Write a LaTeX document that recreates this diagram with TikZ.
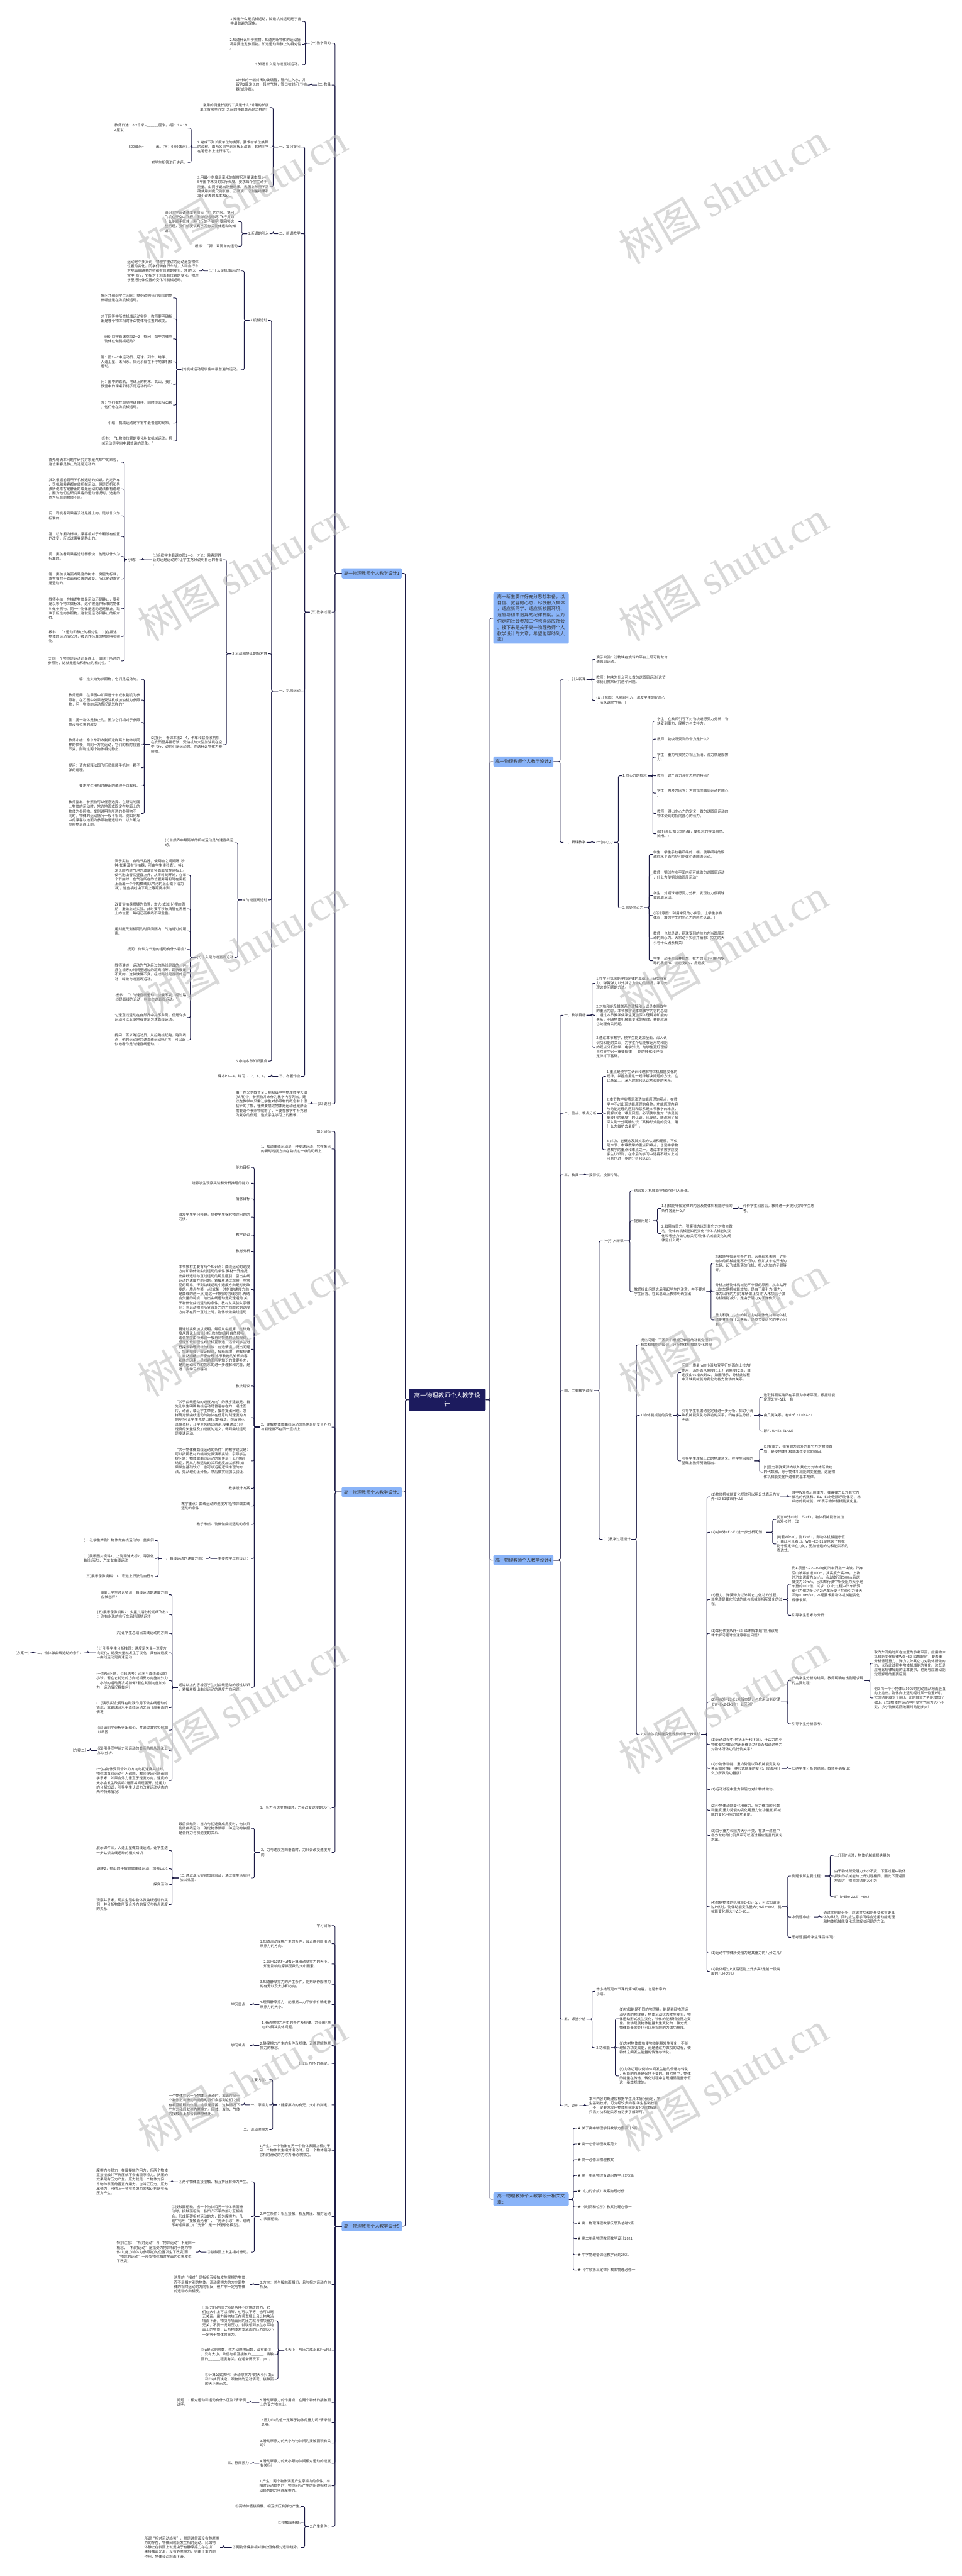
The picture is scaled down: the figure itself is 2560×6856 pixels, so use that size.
\documentclass[tikz,border=0pt]{standalone}
\usepackage{fontspec}
\setmainfont{Noto Sans CJK SC}
\newfontfamily\wmserif{Liberation Serif}
\definecolor{TuNavy}{HTML}{1C1B5E}
\definecolor{TuLine}{HTML}{1B1A45}
\definecolor{TuSky}{HTML}{8AB4F8}
\definecolor{TuInk}{HTML}{333333}
\definecolor{TuMark}{HTML}{BEBEBE}
\begin{document}
\begin{tikzpicture}[x=1pt,y=-1pt]
    \tikzset{
      leaf/.style={font=\fontsize{9.5}{12}\selectfont, text=TuInk, align=left, inner xsep=2pt, inner ysep=1pt},
      ll/.style={leaf, anchor=east},
      rl/.style={leaf, anchor=west},
      topic/.style={rounded corners=3pt, fill=TuSky, text=TuInk, font=\fontsize{11.8}{16.4}\selectfont,
        inner xsep=6pt, inner ysep=4pt, minimum height=27pt, align=left},
      root/.style={rounded corners=3pt, fill=TuNavy, text=white, font=\fontsize{16}{22}\selectfont,
        minimum width=205pt, minimum height=59pt, align=center},
      link/.style={draw=TuLine, line width=1.6pt, rounded corners=4pt},
      wmark/.style={font=\fontsize{110}{110}\selectfont, text=TuMark, text opacity=.6, rotate=30}
    }
    \fill[white] (0,0) rectangle (2560,6856);
    \useasboundingbox (0,0) rectangle (2560,6856);
    \node[root] (root) at (1190.5,3725.5) {高一物理教师个人教学设\\计};
    % left: 设计1
    \node[topic,anchor=east] (d1) at (1070,1526) {高一物理教师个人教学设计1};
    \node[ll] (d1a) at (883,115) {(一)教学目的};
    \node[ll] (d1b) at (883,226) {(二)教具};
    \node[ll] (d1c) at (883,1629) {(三)教学过程};
    \node[ll] (d1d) at (883,2938) {(四)说明};
    \node[ll] (d1a1) at (804,57) {1.知道什么是机械运动，知道机械运动是宇宙\\中最普遍的现象。};
    \node[ll] (d1a2) at (804,118) {2.知道什么叫参照物，知道判断物体的运动情\\况需要选定参照物。知道运动和静止的相对性\\。};
    \node[ll] (d1a3) at (804,172) {3.知道什么是匀速直线运动。};
    \node[ll] (d1b1) at (819,226) {1米长的一端封闭的玻璃管，管内注入水，并\\留约2厘米长的一段空气柱，管口被封闭;节拍\\器(或秒表)。};
    \node[ll] (d1c1) at (802,391) {一、复习提问};
    \node[ll] (d1c2) at (802,622) {二、新课教学};
    \node[ll] (d1c3) at (802,1839) {一、机械运动};
    \node[ll] (d1c4) at (802,2865) {三、布置作业};
    \node[ll] (d1c1a) at (718,286) {1.常用的测量长度的工具是什么?常用的长度\\单位有哪些?它们之间的换算关系是怎样的?};
    \node[ll] (d1c1b) at (718,391) {2.完成下列长度单位的换算，要求有单位换算\\的过程。由两名同学到黑板上演算，其他同学\\在笔记本上进行练习。};
    \node[ll] (d1c1c) at (718,497) {3.用最小刻度是毫米的刻度尺测量课本图1—\\5甲图中木块的实际长度。要求每个学生动手\\测量。由同学说出测量结果。巩固上节所学正\\确使用刻度尺测长度、正确读、记测量结果和\\减小误差的基本知识。};
    \node[ll] (d1c1b1) at (500,341) {教师口述：0.2千米=\_\_\_\_\_\_厘米。(答：2×10\\4厘米)};
    \node[ll] (d1c1b2) at (500,391) {500微米=\_\_\_\_\_\_米。(答：0.0005米)};
    \node[ll] (d1c1b3) at (500,432) {对学生所答进行讲评。};
    \node[ll] (d1c2a) at (718,622) {1.新课的引入};
    \node[ll] (d1c2a1) at (635,590) {组织同学阅读课本节前大“?”的内容。提问：\\飞机在天空中飞行，子弹在运动吗?飞行员为\\什么能顺手抓住一颗飞行的子弹呢?要回答这\\些问题，我们就要认真学习有关物体运动的知\\识。};
    \node[ll] (d1c2a2) at (635,655) {板书：“第二章简单的运动};
    \node[ll] (d1c3a) at (714,853) {2.机械运动};
    \node[ll] (d1c3b) at (714,1740) {3.运动和静止的相对性};
    \node[ll] (d1c3c) at (714,2395) {4.匀速直线运动};
    \node[ll] (d1c3d) at (714,2824) {5.小结本节知识要点};
    \node[ll] (d1c3a1) at (641,721) {(1)什么是机械运动?};
    \node[ll] (d1c3a2) at (641,984) {(2)机械运动是宇宙中最普遍的运动。};
    \node[ll] (d1c3a1x) at (531,721) {运动是个多义词，物理学里讲的运动是指物体\\位置的变化。同学们骑自行车时，人和自行车\\对地面或路旁的树都有位置的变化;飞机在天\\空中飞行，它相对于地面有位置的变化。物理\\学里把物体位置的变化叫机械运动。};
    \node[ll] (d1c3a2a) at (461,793) {提问并组织学生回答：举例说明我们周围的物\\体哪些是在做机械运动。};
    \node[ll] (d1c3a2b) at (461,849) {对于回答中所举机械运动实例，教师要明确指\\出是哪个物体相对什么物体有位置的改变。};
    \node[ll] (d1c3a2c) at (461,902) {组织同学看课本图2—2，提问：图中的哪些\\物体在做机械运动?};
    \node[ll] (d1c3a2d) at (461,963) {答：图2—2中运动员、足球、列车、地球、\\人造卫星、太阳系、银河系都在不停地做机械\\运动。};
    \node[ll] (d1c3a2e) at (461,1023) {问：图中的铁轨，地球上的树木、高山，我们\\教室中的课桌和椅子是运动的吗?};
    \node[ll] (d1c3a2f) at (461,1078) {答：它们都在跟随地球自转，同时绕太阳公转\\，他们也在做机械运动。};
    \node[ll] (d1c3a2g) at (461,1126) {小结：机械运动是宇宙中最普遍的现象。};
    \node[ll] (d1c3a2h) at (461,1174) {板书：“1.物体位置的变化叫做机械运动。机\\械运动是宇宙中最普遍的现象。”};
    \node[ll] (d1c3b1) at (594,1490) {(1)组织学生看课本图2—3，讨论：乘客是静\\止的还是运动的?让学生充分说明自己的看法\\。};
    \node[ll] (d1c3b2) at (594,1982) {(2)提问：看课本图2—4，卡车和联合收割机\\在农田里并排行驶，受油机与大型加油机在空\\中飞行，说它们是运动的。你选什么物体为参\\照物。};
    \node[ll] (d1c3b1x) at (371,1490) {小结：};
    \node[ll] (d1c3b1xa) at (322,1230) {首先明确本问题中研究对象是汽车中的乘客，\\这位乘客是静止的还是运动的。};
    \node[ll] (d1c3b1xb) at (322,1301) {其次根据前面所学机械运动的知识，判定汽车\\、司机和乘客都在做机械运动。但是司机和男\\孩所说乘客是静止的或是运动的说法都有道理\\。因为他们在研究乘客的运动情况时，选定的\\作为标准的物体不同。};
    \node[ll] (d1c3b1xc) at (322,1373) {问：司机看到乘客没动是静止的，是以什么为\\标准的。};
    \node[ll] (d1c3b1xd) at (322,1428) {答：以车厢为标准，乘客相对于车厢没有位置\\的改变，所以说乘客是静止的。};
    \node[ll] (d1c3b1xe) at (322,1481) {问：男孩看到乘客运动得很快，他是以什么为\\标准的。};
    \node[ll] (d1c3b1xf) at (322,1541) {答：男孩以路面或路旁的树木、房屋为标准，\\乘客相对于路面有位置的改变。所以他说乘客\\是运动的。};
    \node[ll] (d1c3b1xg) at (322,1620) {教师小结：在描述物体是运动还是静止，要看\\是以哪个物体做标准。这个被选作标准的物体\\叫做参照物。同一个物体是运动还是静止，取\\决于所选的参照物，这就是运动和静止的相对\\性。};
    \node[ll] (d1c3b1xh) at (322,1694) {板书：“2.运动和静止的相对性：(1)在描述\\物体的运动情况时，被选作标准的物体叫参照\\物。};
    \node[ll] (d1c3b1xi) at (322,1759) {(2)同一个物体是运动还是静止，取决于所选的\\参照物，这就是运动和静止的相对性。”};
    \node[ll] (d1c3b2a) at (375,1808) {答：选大地为参照物，它们是运动的。};
    \node[ll] (d1c3b2b) at (375,1863) {教师追问：在甲图中如果选卡车或收割机为参\\照物，在乙图中如果选受油机或加油机为参照\\物，另一物体的运动情况是怎样的?};
    \node[ll] (d1c3b2c) at (375,1923) {答：另一物体是静止的。因为它们相对于参照\\物没有位置的改变};
    \node[ll] (d1c3b2d) at (375,1982) {教师小结：像卡车和收割机这样两个物体以同\\样的快慢，向同一方向运动，它们的相对位置\\不变，则称这两个物体相对静止。};
    \node[ll] (d1c3b2e) at (375,2043) {提问：请你解释法国飞行员能顺手抓住一颗子\\弹的道理。};
    \node[ll] (d1c3b2f) at (375,2091) {要求学生用相对静止的道理予以解释。};
    \node[ll] (d1c3b2g) at (375,2165) {教师指出：参照物可以任意选择，在研究地面\\上物体的运动时，常选地面或固定在地面上的\\物体为参照物。举例说明当所选的参照物不\\同时，物体的运动情况一般不相同。例如列车\\中的乘客以地面为参照物是运动的，以车厢为\\参照物是静止的。};
    \node[ll] (d1c3c1) at (624,2243) {(1)自然界中最简单的机械运动是匀速直线运\\动。};
    \node[ll] (d1c3c2) at (624,2548) {(2)什么是匀速直线运动};
    \node[ll] (d1c3c2a) at (498,2329) {演示实验：启动节拍器，使两响之间间隔1秒\\钟(如果没有节拍器，可由学生读秒表)。将1\\米长的内封气泡的玻璃管竖直靠放在黑板上。\\使气泡由管底竖直上升，从零时刻开始，在每\\个节拍时，在气泡所在的位置旁用粉笔在黑板\\上画出一个个短横线(以气泡的上沿或下沿为\\准)，这些横线由下到上等距离排列。};
    \node[ll] (d1c3c2b) at (498,2419) {改变节拍器摆锤的位置，增大(或减小)摆的周\\期，重做上述实验。此时要平移玻璃管在黑板\\上的位置，每组记画横线不可重叠。};
    \node[ll] (d1c3c2c) at (498,2478) {用刻度尺测相同的时间间隔内，气泡通过的距\\离。};
    \node[ll] (d1c3c2d) at (498,2527) {提问：你认为气泡的运动有什么特点?};
    \node[ll] (d1c3c2e) at (498,2588) {教师讲述：运动的气泡经过的路线是直的，并\\且在相等的时间里通过的距离相等。即快慢是\\不变的，这种快慢不变，经过路线是直线的运\\动，叫做匀速直线运动。};
    \node[ll] (d1c3c2f) at (498,2654) {板书：“3.匀速直线运动：快慢不变，经过路\\线是直线的运动，叫做匀速直线运动。”};
    \node[ll] (d1c3c2g) at (498,2708) {匀速直线运动在自然界中并不多见，但是许多\\运动可以近似地看作是匀速直线运动。};
    \node[ll] (d1c3c2h) at (498,2768) {提问：百米跑运动员，从起跑线起跑，跑到终\\点，他的运动是匀速直线运动吗?(答：可以近\\似地看作是匀速直线运动。)};
    \node[ll] (d1c4a) at (714,2865) {课本P2—4，练习1、2、3、4。};
    \node[ll] (d1d1) at (820,2938) {由于在义务教育全日制初级中学物理教学大纲\\(试用)中，参照物并未作为教学内容列出。建\\议在教学中只需让学生对参照物的概念有个很\\初步的了解，懂得要描述物体是运动还是静止\\需要选个参照物就够了，不要在教学中补充较\\为复杂的例题，造成学生学习上的困难。};
    % left: 设计3
    \node[topic,anchor=east] (d3) at (1070,3971) {高一物理教师个人教学设计3};
    \node[ll] (d3a) at (883,3011) {知识目标};
    \node[ll] (d3b) at (883,3058) {1、知道曲线运动是一种变速运动，它在某点\\的瞬时速度方向在曲线这一点的切线上.};
    \node[ll] (d3c) at (883,3798) {2、理解物体做曲线运动的条件是所受合外力\\与初速度不在同一直线上.};
    \node[ll] (d3d) at (883,4811) {1、当力与速度共线时，力会改变速度的大小;};
    \node[ll] (d3e) at (883,4930) {2、力与速度方向垂直时，力只会改变速度方\\向.};
    \node[ll] (d3c1) at (668,3107) {能力目标};
    \node[ll] (d3c2) at (668,3149) {培养学生观察实验和分析推理的能力.};
    \node[ll] (d3c3) at (668,3191) {情感目标};
    \node[ll] (d3c4) at (668,3239) {激发学生学习兴趣，培养学生探究物理问题的\\习惯.};
    \node[ll] (d3c5) at (668,3287) {教学建议};
    \node[ll] (d3c6) at (668,3330) {教材分析};
    \node[ll] (d3c7) at (668,3432) {本节教材主要有两个知识点：曲线运动的速度\\方向和物体做曲线运动的条件.教材一开始提\\出曲线运动与直线运动的明显区别，引出曲线\\运动的速度方向问题。紧接着通过观察一些常\\见的现象，得到曲线运动中速度方向是时刻改\\变的。质点在某一点(或某一时刻)的速度方向\\是曲线的这一点(或这一时刻)的切线方向.再结\\合矢量的特点，给出曲线运动是变速运动.关\\于物体做曲线运动的条件，教材从实验入手得\\到：当运动物体所受合外力的方向跟它的速度\\方向不在同一直线上时，物体就做曲线运动.};
    \node[ll] (d3c8) at (668,3591) {再通过实例加以说明。最后从牛顿第二定律角\\度从理论上加以分析.教材的编排自然顺畅，\\适合学生由特殊到一般再到特殊的认知规律，\\感性知识和理性知识相互渗透，适合对学生进\\行探求物理规律的训练：创造情境，提出问题\\，探求规律，验证规律，解释规律，理解规律\\，自然顺畅，严密合理.本节教材的知识内容\\和能力因素，是对前面所学知识的重要补充，\\是对运动和力的关系的进一步理解和完善，是\\进一步学习的基础.};
    \node[ll] (d3c9) at (668,3689) {教法建议};
    \node[ll] (d3c10) at (668,3773) {“关于曲线运动的速度方向”的教学建议是：首\\先让学生明确曲线运动是普遍存在的，通过图\\片，动画，或让学生举例，接着提出问题，怎\\样确定做曲线运动的物体在任意时刻速度的方\\向呢?可让学生先提出自己的看法，然后展示\\录像资料，让学生总结出结论.接着通过分析\\速度的矢量性及加速度的定义，得到曲线运动\\是变速运动.};
    \node[ll] (d3c11) at (668,3888) {“关于物体做曲线运动的条件”的教学建议是：\\可以按照教材的编排先做演示实验，引导学生\\提问题：物体做曲线运动的条件是什么?得到\\结论，再从力和运动的关系角度加以解释.如\\果学生基础较好，也可以运用逻辑推理的方\\法，先从理论上分析，然后做实验加以验证.};
    \node[ll] (d3c12) at (668,3961) {教学设计方案};
    \node[ll] (d3c13) at (668,4008) {教学重点：曲线运动的速度方向;物体做曲线\\运动的条件};
    \node[ll] (d3c14) at (668,4057) {教学难点：物体做曲线运动的条件};
    \node[ll] (d3c15) at (668,4148) {主要教学过程设计：};
    \node[ll] (d3c16) at (668,4491) {通过以上内容增强学生对曲线运动的感性认识\\，紧接着提出曲线运动的速度方向问题：};
    \node[ll] (d3c15a) at (549,4148) {一、曲线运动的速度方向：};
    \node[ll] (d3c15a1) at (412,4100) {(一)让学生举例：物体做曲线运动的一些实例};
    \node[ll] (d3c15a2) at (412,4148) {(二)展示图片资料1、上海南浦大桥2、导弹做\\曲线运动3、汽车做曲线运动};
    \node[ll] (d3c15a3) at (412,4196) {(三)展示录像资料：1、弯道上行驶的自行车};
    \node[ll] (d3c16a) at (449,4244) {(四)让学生讨论猜测，曲线运动的速度方向\\应该怎样?};
    \node[ll] (d3c16b) at (449,4297) {(五)展示录像资料2：火星儿沿砂轮切线飞出3\\：沾有水珠的自行车后轮原地运转};
    \node[ll] (d3c16c) at (449,4347) {(六)让学生总结出曲线运动的方向};
    \node[ll] (d3c16d) at (449,4399) {(七)引导学生分析推理：速度是矢量—速度方\\向变化，速度矢量就发生了变化—具有加速度\\—曲线运动是变速运动};
    \node[ll] (d3c16e) at (449,4473) {(一)提出问题，引起思考：沿水平直线滚动的\\小球，若在它前进的方向或相反方向施加外力\\，小球的运动情况将如何?若在其侧向施加外\\力，运动情况将如何?};
    \node[ll] (d3c16f) at (449,4545) {(二)演示实验;钢球在磁铁作用下做曲线运动的\\情况，或钢球沿水平直线运动之后飞离桌面的\\情况.};
    \node[ll] (d3c16g) at (449,4605) {(三)请同学分析得出结论，并通过其它实例加\\以巩固.};
    \node[ll] (d3c16h) at (449,4659) {(四)引导同学从力和运动的关系角度从理论上\\加以分析.};
    \node[ll] (d3c16i) at (449,4739) {(一)由物体受到合外力方向与初速度共线时，\\物体做直线运动引入课题，教师提出问题请同\\学思考：如果合外力垂直于速度方向，速度的\\大小会发生改变吗?进而将问题展开，运用力\\的分解知识，引导学生认识力改变运动状态的\\两种特殊情况：};
    \node[ll] (d3c16dx) at (225,4399) {二、物体做曲线运动的条件：};
    \node[ll] (d3c16dxx) at (79,4399) {[方案一]};
    \node[ll] (d3c16hx) at (231,4659) {[方案二]};
    \node[ll] (d3e1) at (668,4866) {最后归结到：当力与初速度成角度时，物体只\\能做曲线运动，确定物体做哪一种运动的依据\\是合外力与初速度的关系.};
    \node[ll] (d3e2) at (668,4998) {(二)通过演示实验加以验证，通过举生活实例\\加以巩固：};
    \node[ll] (d3e2a) at (449,4925) {展示课件三，人造卫星做曲线运动，让学生进\\一步认识曲线运动的相关知识.};
    \node[ll] (d3e2b) at (449,4974) {课件2，抛出的手榴弹做曲线运动，加强认识.};
    \node[ll] (d3e2c) at (449,5016) {探究活动};
    \node[ll] (d3e2d) at (449,5069) {观察并思考，现实生活中物体做曲线运动的实\\例，并分析物体所受合外力的情况与各点速度\\的关系.};
    % left: 设计5
    \node[topic,anchor=east] (d5) at (1070,5925) {高一物理教师个人教学设计5};
    \node[ll] (d5a) at (883,5125) {学习目标};
    \node[ll] (d5b) at (883,5173) {1.知道滑动摩擦产生的条件，会正确判断滑动\\摩擦力的方向。};
    \node[ll] (d5c) at (883,5227) {2.会用公式F=μFN计算滑动摩擦力的大小，\\知道影响动摩擦因数的大小因素。};
    \node[ll] (d5d) at (883,5281) {3.知道静摩擦力的产生条件，能判断静摩擦力\\的有无以及大小和方向。};
    \node[ll] (d5e) at (883,5335) {4.理解静摩擦力，能根据二力平衡条件确定静\\摩擦力的大小。};
    \node[ll] (d5f) at (883,5390) {1.滑动摩擦力产生的条件及规律，并会用F摩\\=μFN解决具体问题。};
    \node[ll] (d5g) at (883,5444) {2.静摩擦力产生的条件及规律，正确理解静摩\\擦力的概念。};
    \node[ll] (d5h) at (883,5492) {1.正压力FN的确定。};
    \node[ll] (d5i) at (883,5602) {2.静摩擦力的有无、大小的判定。};
    \node[ll] (d5j) at (883,5723) {1.产生：一个物体在另一个物体表面上相对于\\另一个物体发生相对滑动时，另一个物体阻碍\\它相对滑动的力称为滑动摩擦力。};
    \node[ll] (d5k) at (883,5899) {2.产生条件：相互接触、相互挤压、相对运动\\、表面粗糙。};
    \node[ll] (d5l) at (883,6080) {3.方向：总与接触面相切，且与相对运动方向\\相反。};
    \node[ll] (d5m) at (883,6255) {4.大小：与压力成正比F=μFN};
    \node[ll] (d5n) at (883,6394) {5.滑动摩擦力的作用点：在两个物体的接触面\\上的受力物体上。};
    \node[ll] (d5o) at (883,6447) {2.压力FN的值一定等于物体的重力吗?请举例\\说明。};
    \node[ll] (d5p) at (883,6502) {3.滑动摩擦力的大小与物体间的接触面积有关\\吗?};
    \node[ll] (d5q) at (883,6556) {4.滑动摩擦力的大小跟物体间相对运动的速度\\有关吗?};
    \node[ll] (d5r) at (883,6616) {1.产生：两个物体满足产生摩擦力的条件，有\\相对运动趋势时，物体间所产生的阻碍相对运\\动趋势的力叫静摩擦力。};
    \node[ll] (d5s) at (883,6724) {2.产生条件：};
    \node[ll] (d5e1) at (665,5335) {学习重点：};
    \node[ll] (d5g1) at (665,5444) {学习难点：};
    \node[ll] (d5i1) at (717,5535) {主要内容：};
    \node[ll] (d5i2) at (717,5602) {一、摩擦力};
    \node[ll] (d5i3) at (717,5668) {二、滑动摩擦力};
    \node[ll] (d5i2x) at (641,5602) {一个物体在另一个物体上滑动时，或者在另一\\个物体上有滑动的趋势时我们会感到它们之间\\有相互阻碍的作用，这就是摩擦。这种情况下\\产生力我们就称为摩擦力。固体、液体、气体\\的接触面上都会有摩擦作用。};
    \node[ll] (d5k1) at (668,5807) {①两个物体直接接触、相互挤压有弹力产生。};
    \node[ll] (d5k2) at (668,5899) {②接触面粗糙。当一个物体沿另一物体表面滑\\动时，接触面粗糙，各凹凸不平的部分互相啮\\合，形成阻碍相对运动的力，即为摩擦力。凡\\题中写明“接触面光滑”、“光滑小球”等，统统\\不考虑摩擦力(“光滑”是一个理想化模型)。};
    \node[ll] (d5k3) at (668,5994) {③接触面上发生相对滑动。};
    \node[ll] (d5k1x) at (449,5807) {摩擦力与弹力一样属接触作用力，但两个物体\\直接接触并不挤压就不会出现摩擦力。挤压的\\效果是有压力产生。压力就是一个物体对另一\\个物体表面的垂直作用力，也叫正压力，压力\\属弹力，可依上一节有关弹力的知识判断有无\\压力产生。};
    \node[ll] (d5k3x) at (522,5994) {特别注意：“相对运动”与“物体运动”不是同一\\概念，“相对运动”是指受力物体相对于施力物\\体(以施力物体为参照物)的位置发生了改变;而\\“物体的运动”一般指物体相对地面的位置发生\\了改变。};
    \node[ll] (d5l1) at (665,6080) {这里的“相对”是指相互接触发生摩擦的物体，\\而不是相对别的物体。滑动摩擦力的方向跟物\\体的相对运动的方向相反，但并非一定与物体\\的运动方向相反。};
    \node[ll] (d5m1) at (731,6177) {①压力FN与重力G是两种不同性质的力，它\\们在大小上可以相等，也可以不等，也可以毫\\无关系。用力将物块压在竖直墙上且让物块沿\\墙面下滑，物块与墙面间的压力就与物块重力\\无关，不要一提到压力，就联想到放在水平地\\面上的物体，认为物体对支承面的压力的大小\\一定等于物体的重力。};
    \node[ll] (d5m2) at (731,6267) {②μ是比例常数，称为动摩擦因数，没有单位\\，只有大小，数值与相互接触的\_\_\_\_\_\_、接触\\面的\_\_\_\_\_\_程度有关。在通常情况下，μ<1。};
    \node[ll] (d5m3) at (731,6332) {③计算公式表明：滑动摩擦力F的大小只由μ\\和FN共同决定，跟物体的运动情况、接触面\\的大小等无关。};
    \node[ll] (d5n1) at (657,6394) {问题：1.相对运动和运动有什么区别?请举例\\说明。};
    \node[ll] (d5q1) at (665,6556) {三、静摩擦力};
    \node[ll] (d5s1) at (802,6671) {①两物体直接接触、相互挤压有弹力产生;};
    \node[ll] (d5s2) at (802,6714) {②接触面粗糙;};
    \node[ll] (d5s3) at (802,6780) {③两物体保持相对静止但有相对运动趋势。};
    \node[ll] (d5s3x) at (586,6780) {所谓“相对运动趋势”，就是说假设没有静摩擦\\力的存在，物体间就会发生相对运动。比如物\\体静止在斜面上就是由于有静摩擦力存在;如\\果接触面光滑，没有静摩擦力，则由于重力的\\作用，物体会沿斜面下滑。};
    % right: 引言, 设计2
    \node[topic,anchor=west,minimum width=201pt,inner ysep=5pt,font=\fontsize{12}{16.4}\selectfont] (r0) at (1313,1645)
      {高一新生要作好充分思想准备，以\\自信、宽容的心态，尽快融入集体\\，适应新同学、适应新校园环境、\\适应与初中迥异的纪律制度。因为\\你走向社会参加工作也得适应社会\\。接下来是关于高一物理教师个人\\教学设计的文章，希望能帮助到大\\家!};
    \node[topic,anchor=west] (r2) at (1313,2027) {高一物理教师个人教学设计2};
    \node[rl] (r2a) at (1500,1809) {一、引入新课};
    \node[rl] (r2b) at (1500,2242) {二、新课教学};
    \node[rl] (r2a1) at (1585,1755) {演示实验：让物块在旋转的平台上尽可能做匀\\速圆周运动。};
    \node[rl] (r2a2) at (1585,1809) {教师：物块为什么可以做匀速圆周运动?这节\\课我们就来研究这个问题。};
    \node[rl] (r2a3) at (1585,1864) {(设计意图：从实验引入，激发学生的好奇心\\，活跃课堂气氛。)};
    \node[rl] (r2b1) at (1585,2242) {(一)向心力};
    \node[rl] (r2b1a) at (1655,2065) {1.向心力的概念};
    \node[rl] (r2b1b) at (1655,2416) {2.感受向心力};
    \node[rl] (r2b1a1) at (1747,1919) {学生：在教师引导下对物块进行受力分析：物\\块受到重力、摩擦力与支持力。};
    \node[rl] (r2b1a2) at (1747,1967) {教师：物块所受到的合力是什么?};
    \node[rl] (r2b1a3) at (1747,2015) {学生：重力与支持力相互抵消，合力就是摩擦\\力。};
    \node[rl] (r2b1a4) at (1747,2065) {教师：这个合力具有怎样的特点?};
    \node[rl] (r2b1a5) at (1747,2111) {学生：思考并回答：方向指向圆周运动的圆心\\。};
    \node[rl] (r2b1a6) at (1747,2165) {教师：得出向心力的定义：做匀速圆周运动的\\物体受到的指向圆心的合力。};
    \node[rl] (r2b1a7) at (1747,2219) {(做好新旧知识的衔接，使概念的得出自然、\\流畅。)};
    \node[rl] (r2b1b1) at (1737,2274) {学生：学生手拉着细绳的一端，使带细绳的钢\\球在水平面内尽可能做匀速圆周运动。};
    \node[rl] (r2b1b2) at (1737,2329) {教师：钢球在水平面内尽可能做匀速圆周运动\\，什么力使钢球做圆周运动?};
    \node[rl] (r2b1b3) at (1737,2383) {学生：对钢球进行受力分析，发现拉力使钢球\\做圆周运动。};
    \node[rl] (r2b1b4) at (1737,2437) {(设计意图：利用常见的小实验，让学生亲身\\体验，增强学生对向心力的感性认识。)};
    \node[rl] (r2b1b5) at (1737,2497) {教师：也就是说，钢球受到的拉力充当圆周运\\动的向心力。大家动手实验并猜想：拉力的大\\小与什么因素有关?};
    \node[rl] (r2b1b6) at (1737,2557) {学生：动手体验并猜想，拉力的大小可能与钢\\球的质量m、线速度的v、角速度};
    % right: 设计4
    \node[topic,anchor=west] (r4) at (1313,4152) {高一物理教师个人教学设计4};
    \node[rl] (r4a) at (1500,2702) {一、教学目标};
    \node[rl] (r4b) at (1500,2963) {二、重点、难点分析};
    \node[rl] (r4c) at (1500,3127) {三、教具};
    \node[rl] (r4d) at (1500,3701) {四、主要教学过程};
    \node[rl] (r4e) at (1500,5374) {五、课堂小结};
    \node[rl] (r4f) at (1500,5604) {六、说明};
    \node[rl] (r4a1) at (1585,2617) {1.在学习机械能守恒定律的基础上，研究有重\\力、弹簧弹力以外其它力做功的情况，学习处\\理这类问题的方法。};
    \node[rl] (r4a2) at (1585,2702) {2.对功和能及其关系的理解和认识是本章教学\\的重点内容，本节教学是本章教学内容的总结\\。通过本节教学使学生更加深入理解功和能的\\关系，明确物体机械能变化的规律，并能应用\\它处理有关问题。};
    \node[rl] (r4a3) at (1585,2787) {3.通过本节教学，使学生能更加全面、深入认\\识功和能的关系，为学生今后能够运用功和能\\的观点分析热学、电学知识，为学生更好理解\\自然界中另一重要规律——能的转化和守恒\\定律打下基础。};
    \node[rl] (r4b1) at (1613,2865) {1.重点是使学生认识和理解物体机械能变化的\\规律，掌握应用这一规律解决问题的方法。在\\此基础上，深入理解和认识功和能的关系。};
    \node[rl] (r4b2) at (1613,2963) {2.本节教学实质是渗透功能原理的观点，在教\\学中不必出现功能原理的名称。功能原理内容\\与动能定理的区别和联系是本节教学的难点，\\要解决这一难点问题，必须使学生对“功是能\\量转化的量度”的认识，从笼统、肤浅地了解\\深入到十分明确认识“某种形式能的变化，用\\什么力做功去量度”。};
    \node[rl] (r4b3) at (1613,3060) {3.对功、能概念及其关系的认识和理解，不仅\\是本节、本章教学的重点和难点，也是中学物\\理教学的重点和难点之一。通过本节教学应使\\学生认识到，在今后的学习中还将不断对上述\\问题作进一步的分析和认识。};
    \node[rl] (r4c1) at (1566,3127) {投影仪、投影片等。};
    \node[rl] (r4d1) at (1604,3303) {(一)引入新课};
    \node[rl] (r4d2) at (1604,4097) {(二)教学过程设计};
    \node[rl] (r4d1a) at (1686,3169) {结合复习机械能守恒定律引入新课。};
    \node[rl] (r4d1b) at (1686,3249) {提出问题：};
    \node[rl] (r4d1c) at (1686,3438) {教师提出问题之后引起学生的注意，并不要求\\学生回答。在此基础上教师明确指出：};
    \node[rl] (r4d1b1) at (1759,3216) {1.机械能守恒定律的内容及物体机械能守恒的\\条件各是什么?};
    \node[rl] (r4d1b2) at (1759,3283) {2.如果有重力、弹簧弹力以外其它力对物体做\\功，物体的机械能如何变化?物体机械能的变\\化和哪些力做功有关呢?物体机械能变化的规\\律是什么呢?};
    \node[rl] (r4d1b1x) at (1976,3216) {评价学生回答后，教师进一步提问引导学生思\\考。};
    \node[rl] (r4d1c1) at (1902,3362) {机械能守恒是有条件的。大量现象表明，许多\\物体的机械能是不守恒的。例如从车站开出的\\车辆、起飞或降落的飞机、打入木块的子弹等\\等。};
    \node[rl] (r4d1c2) at (1902,3438) {分析上述物体机械能不守恒的原因：从车站开\\出的车辆机械能增加，是由于牵引力(重力、\\弹力以外的力)对车辆做正功;射入木块后子弹\\的机械能减少，是由于阻力对子弹做负功。};
    \node[rl] (r4d1c3) at (1902,3513) {重力和弹力以外的其它力对物体做功和物体机\\械能变化有什么关系，是本节要研究的中心问\\题。};
    \node[rl] (r4d2a) at (1703,3579) {提出问题：下面我们根据已掌握的动能定理和\\有关机械能的知识，分析物体机械能变化的规\\律。};
    \node[rl] (r4d2b) at (1703,3767) {1.物体机械能的变化};
    \node[rl] (r4d2c) at (1703,4616) {2.对物体机械能变化规律的进一步认识};
    \node[rl] (r4d2b1) at (1813,3653) {问题：质量m的小滑块受平行斜面向上拉力F\\作用，沿斜面从高度h1上升到高度h2处，其\\速度由v1增大到v2，如图所示，分析此过程\\中滑块机械能的变化与各力做功的关系。};
    \node[rl] (r4d2b2) at (1813,3767) {引导学生根据动能定理进一步分析，探讨小滑\\块机械能变化与做功的关系。归纳学生分析，\\明确：};
    \node[rl] (r4d2b3) at (1813,3888) {引导学生理解上式的物理意义。在学生回答的\\基础上教师明确指出：};
    \node[rl] (r4d2b2a) at (2031,3719) {选取斜面底端所在平面为参考平面，根据动能\\定理∑W=ΔEk，有};
    \node[rl] (r4d2b2b) at (2031,3767) {由几何关系，有sinθ·L=h2-h1};
    \node[rl] (r4d2b2c) at (2031,3809) {即FL-fL=E2-E1=ΔE};
    \node[rl] (r4d2b3a) at (2031,3857) {(1)有重力、弹簧弹力以外的其它力对物体做\\功，是使物体机械能发生变化的原因。};
    \node[rl] (r4d2b3b) at (2031,3918) {(2)重力和弹簧弹力以外其它力对物体所做功\\的代数和，等于物体机械能的变化量。这是物\\体机械能变化所遵循的基本规律。};
    \node[rl] (r4d2c1) at (1891,3984) {(1)物体机械能变化规律可以用公式表示为W\\外=E2-E1或W外=ΔE};
    \node[rl] (r4d2c2) at (1891,4078) {(2)对W外=E2-E1进一步分析可知：};
    \node[rl] (r4d2c3) at (1891,4257) {(3)重力、弹簧弹力以外其它力做功的过程，\\其实质是其它形式的能与机械能相互转化的过\\程。};
    \node[rl] (r4d2c4) at (1891,4347) {(1)如何依据W外=E2-E1求解本题?应用该规\\律求解问题时应注意哪些问题?};
    \node[rl] (r4d2c5) at (1891,4530) {(2)用W外=E2-E1求解本题，与应用动能定理\\∑W=Ek2-Ek1有什么区别?};
    \node[rl] (r4d2c6) at (1891,4643) {(1)运动过程中(包括上升和下落)，什么力对小\\物体做功?做正功还是做负功?能否知道这些力\\对物体所做功的比例关系?};
    \node[rl] (r4d2c7) at (1891,4707) {(2)小物体动能、重力势能以及机械能变化的\\关系如何?每一种形式能量的变化，应该用什\\么力所做的功量度?};
    \node[rl] (r4d2c8) at (1891,4763) {(1)运动过程中重力和阻力对小物体做功。};
    \node[rl] (r4d2c9) at (1891,4818) {(2)小物体动能变化用重力、阻力做功的代数\\和量度;重力势能的变化用重力做功量度;机械\\能的变化用阻力做功量度。};
    \node[rl] (r4d2c10) at (1891,4885) {(3)由于重力和阻力大小不变，在某一过程中\\各力做功的比例关系可以通过相应能量的变化\\求出。};
    \node[rl] (r4d2c11) at (1891,5075) {(4)根据物体的机械能E=Ek+Ep，可以知道经\\过P点时，物体动能变化量大小ΔEk=80J，机\\械能变化量大小ΔE=20J。};
    \node[rl] (r4d2c12) at (1891,5198) {(1)运动中物体所受阻力是其重力的几分之几?};
    \node[rl] (r4d2c13) at (1891,5247) {(2)物体经过P点后还能上升多高?是前一段高\\度的几分之几?};
    \node[rl] (r4d2c1x) at (2106,3984) {其中W外表示除重力、弹簧弹力以外其它力\\做功的代数和。E1、E2分别表示物体初、末\\状态的机械能。ΔE表示物体机械能变化量。};
    \node[rl] (r4d2c2a) at (2066,4044) {(i)当W外>0时，E2>E1，物体机械能增加;当\\W外<0时，E2};
    \node[rl] (r4d2c2b) at (2066,4109) {(ii)若W外=0，则E2=E1，即物体机械能守恒\\。由此可以看出，W外=E2-E1是包含了机械\\能守恒定律在内的，更加普遍的功和能关系的\\表达式。};
    \node[rl] (r4d2c3a) at (2106,4216) {例1.质量4.0×103kg的汽车开上一山坡。汽车\\沿山坡每前进100m，其高度升高2m。上坡\\时汽车速度为5m/s，沿山坡行驶500m后速\\度变为10m/s。已知车行驶中所受阻力大小是\\车重的0.01倍。试求：(1)此过程中汽车所受\\牵引力做功多少?(2)汽车所受平均牵引力多大\\?取g=10m/s2。本题要求用物体机械能变化\\规律求解。};
    \node[rl] (r4d2c3b) at (2106,4299) {引导学生思考与分析：};
    \node[rl] (r4d2c5a) at (2106,4473) {归纳学生分析的结果，教师明确给出例题求解\\的主要过程：};
    \node[rl] (r4d2c5b) at (2106,4588) {引导学生分析思考：};
    \node[rl] (r4d2c5a1) at (2325,4427) {取汽车开始时所在位置为参考平面，应用物体\\机械能变化规律W外=E2-E1解题时，要着重\\分析清楚重力、弹力以外其它力对物体所做的\\功，以及此过程中物体机械能的变化。这既是\\应用此规律解题的基本要求，也是与应用动能\\定理解题的重要区别。};
    \node[rl] (r4d2c5a2) at (2325,4519) {例2.将一个小物体以100J的初动能从地面竖直\\向上抛出。物体向上运动经过某一位置P时，\\它的动能减少了80J，此时其重力势能增加了\\60J。已知物体在运动中所受空气阻力大小不\\变，求小物体返回地面时动能多大?};
    \node[rl] (r4d2c7x) at (2106,4707) {归纳学生分析的结果，教师明确指出：};
    \node[rl] (r4d2c11a) at (2106,4993) {例题求解主要过程：};
    \node[rl] (r4d2c11b) at (2106,5102) {本例题小结：};
    \node[rl] (r4d2c11c) at (2106,5156) {思考题(留给学生课后练习)：};
    \node[rl] (r4d2c11a1) at (2219,4938) {上升到P点时，物体机械能损失量为};
    \node[rl] (r4d2c11a2) at (2219,4993) {由于物体所受阻力大小不变，下落过程中物体\\损失的机械能与上升过程相同，因此下落返回\\地面时，物体的动能大小为};
    \node[rl] (r4d2c11a3) at (2219,5048) {E'k=Ek0-2ΔE'=50J};
    \node[rl] (r4d2c11bx) at (2190,5102) {通过本例题分析，应该对功和能量变化有更具\\体的认识，同时应注意学习综合运用动能定理\\和物体机械能变化规律解决问题的方法。};
    \node[rl] (r4e1) at (1585,5300) {本小结既是本节课的第3项内容，也是本章的\\小结。};
    \node[rl] (r4e2) at (1585,5450) {3.功和能};
    \node[rl] (r4e2a) at (1647,5373) {(1)功和能是不同的物理量。能是表征物理运\\动状态的物理量，物体运动状态发生变化，物\\体运动形式发生变化，物体的能都相应随之变\\化。做功是使物体能量发生变化的一种方式，\\物体能量的变化可以用相应的力做功量度。};
    \node[rl] (r4e2b) at (1647,5450) {(2)力对物体做功使物体能量发生变化，不能\\理解为功变成能，而是通过力做功的过程，使\\物体之间发生能量的传递与转化。};
    \node[rl] (r4e2c) at (1647,5525) {(3)力做功可以使物体间发生能的传递与转化\\，但能的总量是保持不变的。自然界中，物体\\的能量在传递、转化过程中总是遵循能量守恒\\这一基本规律的。};
    \node[rl] (r4f1) at (1566,5604) {本节内容的处理应根据学生具体情况而定，学\\生基础较好，可介绍较多内容;学生基础较差\\，不一定要求应用物体机械能变化规律解题，\\只需对功和能关系有初步了解即可。};
    % right: 相关文章
    \node[topic,anchor=west,minimum width=201pt,font=\fontsize{12}{16.4}\selectfont] (r6) at (1313,5853) {高一物理教师个人教学设计相关文\\章：};
    \node[rl] (r6a) at (1535,5664) {★ 关于高中物理学科教学方案设计5篇};
    \node[rl] (r6b) at (1535,5706) {★ 高一必修物理教案范文};
    \node[rl] (r6c) at (1535,5748) {★ 高一必修三物理教案};
    \node[rl] (r6d) at (1535,5790) {★ 高一年级物理备课组教学计划5篇};
    \node[rl] (r6e) at (1535,5832) {★ 《力的合成》教案物理必修};
    \node[rl] (r6f) at (1535,5874) {★ 《时间和位移》教案物理必修一};
    \node[rl] (r6g) at (1535,5917) {★ 高一物理课程教学反思及总结5篇};
    \node[rl] (r6h) at (1535,5958) {★ 高二年级物理教师教学设计2021};
    \node[rl] (r6i) at (1535,6001) {★ 中学物理备课组教学计划2021};
    \node[rl] (r6j) at (1535,6042) {★ 《牛顿第三定律》教案物理必修一};
    % connectors
    \foreach \a/\b in {root/d1,root/d3,root/d5,d1/d1a,d1/d1b,d1/d1c,d1/d1d,d1a/d1a1,d1a/d1a2,d1a/d1a3,d1b/d1b1,
      d1c/d1c1,d1c/d1c2,d1c/d1c3,d1c/d1c4,d1c1/d1c1a,d1c1/d1c1b,d1c1/d1c1c,d1c1b/d1c1b1,d1c1b/d1c1b2,d1c1b/d1c1b3,
      d1c2/d1c2a,d1c2a/d1c2a1,d1c2a/d1c2a2,d1c3/d1c3a,d1c3/d1c3b,d1c3/d1c3c,d1c3/d1c3d,
      d1c3a/d1c3a1,d1c3a/d1c3a2,d1c3a1/d1c3a1x,d1c3a2/d1c3a2a,d1c3a2/d1c3a2b,d1c3a2/d1c3a2c,d1c3a2/d1c3a2d,
      d1c3a2/d1c3a2e,d1c3a2/d1c3a2f,d1c3a2/d1c3a2g,d1c3a2/d1c3a2h,d1c3b/d1c3b1,d1c3b/d1c3b2,d1c3b1/d1c3b1x,
      d1c3b1x/d1c3b1xa,d1c3b1x/d1c3b1xb,d1c3b1x/d1c3b1xc,d1c3b1x/d1c3b1xd,d1c3b1x/d1c3b1xe,d1c3b1x/d1c3b1xf,
      d1c3b1x/d1c3b1xg,d1c3b1x/d1c3b1xh,d1c3b1x/d1c3b1xi,d1c3b2/d1c3b2a,d1c3b2/d1c3b2b,d1c3b2/d1c3b2c,
      d1c3b2/d1c3b2d,d1c3b2/d1c3b2e,d1c3b2/d1c3b2f,d1c3b2/d1c3b2g,d1c3c/d1c3c1,d1c3c/d1c3c2,
      d1c3c2/d1c3c2a,d1c3c2/d1c3c2b,d1c3c2/d1c3c2c,d1c3c2/d1c3c2d,d1c3c2/d1c3c2e,d1c3c2/d1c3c2f,d1c3c2/d1c3c2g,
      d1c3c2/d1c3c2h,d1c4/d1c4a,d1d/d1d1,
      d3/d3a,d3/d3b,d3/d3c,d3/d3d,d3/d3e,d3c/d3c1,d3c/d3c2,d3c/d3c3,d3c/d3c4,d3c/d3c5,d3c/d3c6,d3c/d3c7,d3c/d3c8,
      d3c/d3c9,d3c/d3c10,d3c/d3c11,d3c/d3c12,d3c/d3c13,d3c/d3c14,d3c/d3c15,d3c/d3c16,d3c15/d3c15a,
      d3c15a/d3c15a1,d3c15a/d3c15a2,d3c15a/d3c15a3,d3c16/d3c16a,d3c16/d3c16b,d3c16/d3c16c,d3c16/d3c16d,
      d3c16/d3c16e,d3c16/d3c16f,d3c16/d3c16g,d3c16/d3c16h,d3c16/d3c16i,d3c16d/d3c16dx,d3c16dx/d3c16dxx,
      d3c16h/d3c16hx,d3e/d3e1,d3e/d3e2,d3e2/d3e2a,d3e2/d3e2b,d3e2/d3e2c,d3e2/d3e2d,
      d5/d5a,d5/d5b,d5/d5c,d5/d5d,d5/d5e,d5/d5f,d5/d5g,d5/d5h,d5/d5i,d5/d5j,d5/d5k,d5/d5l,d5/d5m,d5/d5n,d5/d5o,
      d5/d5p,d5/d5q,d5/d5r,d5/d5s,d5e/d5e1,d5g/d5g1,d5i/d5i1,d5i/d5i2,d5i/d5i3,d5i2/d5i2x,d5k/d5k1,d5k/d5k2,
      d5k/d5k3,d5k1/d5k1x,d5k3/d5k3x,d5l/d5l1,d5m/d5m1,d5m/d5m2,d5m/d5m3,d5n/d5n1,d5q/d5q1,d5s/d5s1,d5s/d5s2,
      d5s/d5s3,d5s3/d5s3x}
      \draw[link] (\a.west) -| ([xshift=9pt]\b.east) -- (\b.east);
    \foreach \a/\b in {root/r0,root/r2,root/r4,root/r6,r2/r2a,r2/r2b,r2a/r2a1,r2a/r2a2,r2a/r2a3,r2b/r2b1,
      r2b1/r2b1a,r2b1/r2b1b,r2b1a/r2b1a1,r2b1a/r2b1a2,r2b1a/r2b1a3,r2b1a/r2b1a4,r2b1a/r2b1a5,r2b1a/r2b1a6,
      r2b1a/r2b1a7,r2b1b/r2b1b1,r2b1b/r2b1b2,r2b1b/r2b1b3,r2b1b/r2b1b4,r2b1b/r2b1b5,r2b1b/r2b1b6,
      r4/r4a,r4/r4b,r4/r4c,r4/r4d,r4/r4e,r4/r4f,r4a/r4a1,r4a/r4a2,r4a/r4a3,r4b/r4b1,r4b/r4b2,r4b/r4b3,r4c/r4c1,
      r4d/r4d1,r4d/r4d2,r4d1/r4d1a,r4d1/r4d1b,r4d1/r4d1c,r4d1b/r4d1b1,r4d1b/r4d1b2,r4d1b1/r4d1b1x,
      r4d1c/r4d1c1,r4d1c/r4d1c2,r4d1c/r4d1c3,r4d2/r4d2a,r4d2/r4d2b,r4d2/r4d2c,r4d2b/r4d2b1,r4d2b/r4d2b2,
      r4d2b/r4d2b3,r4d2b2/r4d2b2a,r4d2b2/r4d2b2b,r4d2b2/r4d2b2c,r4d2b3/r4d2b3a,r4d2b3/r4d2b3b,
      r4d2c/r4d2c1,r4d2c/r4d2c2,r4d2c/r4d2c3,r4d2c/r4d2c4,r4d2c/r4d2c5,r4d2c/r4d2c6,r4d2c/r4d2c7,r4d2c/r4d2c8,
      r4d2c/r4d2c9,r4d2c/r4d2c10,r4d2c/r4d2c11,r4d2c/r4d2c12,r4d2c/r4d2c13,r4d2c1/r4d2c1x,r4d2c2/r4d2c2a,
      r4d2c2/r4d2c2b,r4d2c3/r4d2c3a,r4d2c3/r4d2c3b,r4d2c5/r4d2c5a,r4d2c5/r4d2c5b,r4d2c5a/r4d2c5a1,
      r4d2c5a/r4d2c5a2,r4d2c7/r4d2c7x,r4d2c11/r4d2c11a,r4d2c11/r4d2c11b,r4d2c11/r4d2c11c,
      r4d2c11a/r4d2c11a1,r4d2c11a/r4d2c11a2,r4d2c11a/r4d2c11a3,r4d2c11b/r4d2c11bx,r4e/r4e1,r4e/r4e2,
      r4e2/r4e2a,r4e2/r4e2b,r4e2/r4e2c,r4f/r4f1,r6/r6a,r6/r6b,r6/r6c,r6/r6d,r6/r6e,r6/r6f,r6/r6g,r6/r6h,r6/r6i,r6/r6j}
      \draw[link] (\a.east) -| ([xshift=-9pt]\b.west) -- (\b.west);
    % watermark
    \foreach \y in {515,1520,...,6540} {
      \node[wmark] (wmL\y) at (645,\y) {树图 {\wmserif shutu.cn}};
      \node[wmark] (wmR\y) at (1925,\y) {树图 {\wmserif shutu.cn}};
    }
\end{tikzpicture}
\end{document}
